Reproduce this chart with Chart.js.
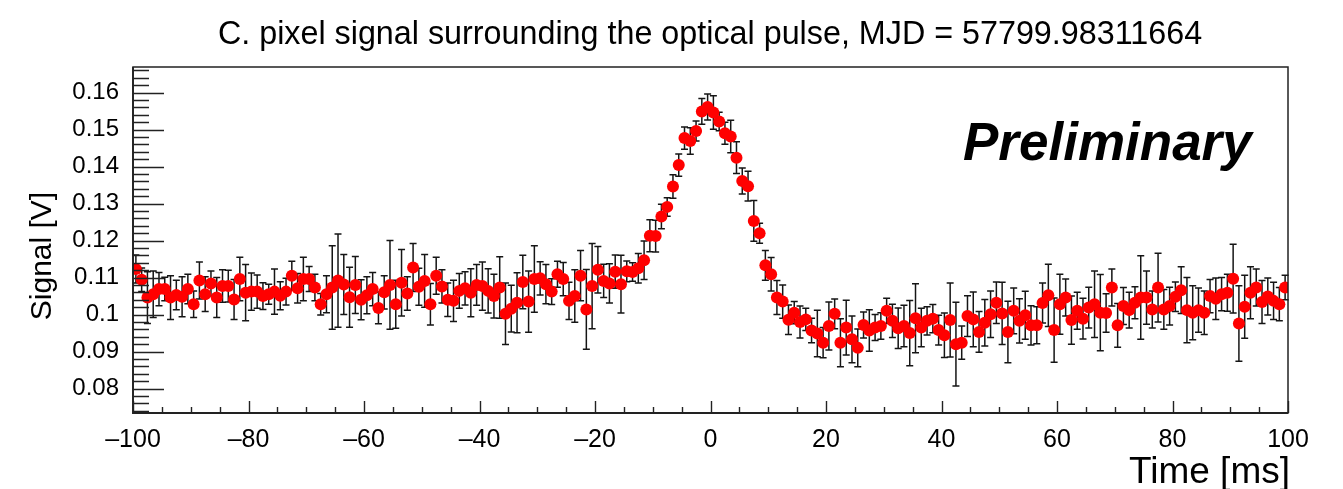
<!DOCTYPE html>
<html>
<head>
<meta charset="utf-8">
<script src="https://cdn.jsdelivr.net/npm/chart.js@4/dist/chart.umd.min.js"></script>
<style>
html,body{margin:0;padding:0;background:#fff;}
#wrap{width:1343px;height:489px;position:relative;}
</style>
</head>
<body>
<div id="wrap"><canvas id="c" width="1343" height="489"></canvas></div>
<script>
// ---- data ----
const titleText = "C. pixel signal surrounding the optical pulse, MJD = 57799.98311664";
const xTitle = "Time [ms]";
const yTitle = "Signal [V]";
const watermark = "Preliminary";

const xTickValues = [-100, -80, -60, -40, -20, 0, 20, 40, 60, 80, 100];
const yTickValues = [0.08, 0.09, 0.10, 0.11, 0.12, 0.13, 0.14, 0.15, 0.16];

const times = [
-99.5,-98.5,-97.5,-96.5,-95.5,-94.5,-93.5,-92.5,-91.5,-90.5,
-89.5,-88.5,-87.5,-86.5,-85.5,-84.5,-83.5,-82.5,-81.5,-80.5,
-79.5,-78.5,-77.5,-76.5,-75.5,-74.5,-73.5,-72.5,-71.5,-70.5,
-69.5,-68.5,-67.5,-66.5,-65.5,-64.5,-63.5,-62.5,-61.5,-60.5,
-59.5,-58.5,-57.5,-56.5,-55.5,-54.5,-53.5,-52.5,-51.5,-50.5,
-49.5,-48.5,-47.5,-46.5,-45.5,-44.5,-43.5,-42.5,-41.5,-40.5,
-39.5,-38.5,-37.5,-36.5,-35.5,-34.5,-33.5,-32.5,-31.5,-30.5,
-29.5,-28.5,-27.5,-26.5,-25.5,-24.5,-23.5,-22.5,-21.5,-20.5,
-19.5,-18.5,-17.5,-16.5,-15.5,-14.5,-13.5,-12.5,-11.5,-10.5,
-9.5,-8.5,-7.5,-6.5,-5.5,-4.5,-3.5,-2.5,-1.5,-0.5,
0.5,1.5,2.5,3.5,4.5,5.5,6.5,7.5,8.5,9.5,
10.5,11.5,12.5,13.5,14.5,15.5,16.5,17.5,18.5,19.5,
20.5,21.5,22.5,23.5,24.5,25.5,26.5,27.5,28.5,29.5,
30.5,31.5,32.5,33.5,34.5,35.5,36.5,37.5,38.5,39.5,
40.5,41.5,42.5,43.5,44.5,45.5,46.5,47.5,48.5,49.5,
50.5,51.5,52.5,53.5,54.5,55.5,56.5,57.5,58.5,59.5,
60.5,61.5,62.5,63.5,64.5,65.5,66.5,67.5,68.5,69.5,
70.5,71.5,72.5,73.5,74.5,75.5,76.5,77.5,78.5,79.5,
80.5,81.5,82.5,83.5,84.5,85.5,86.5,87.5,88.5,89.5,
90.5,91.5,92.5,93.5,94.5,95.5,96.5,97.5,98.5,99.5
];

const signal = [
0.1123,0.1094,0.1046,0.1055,0.1069,0.1069,0.1046,0.1053,0.1048,0.1069,
0.1028,0.1092,0.1055,0.1084,0.1046,0.1077,0.1077,0.1041,0.1096,0.1059,
0.1062,0.1062,0.1050,0.1055,0.1062,0.1051,0.1062,0.1105,0.1071,0.1096,
0.1096,0.1073,0.1028,0.1055,0.1073,0.1092,0.1081,0.1047,0.1080,0.1040,
0.1052,0.1069,0.1018,0.1060,0.1080,0.1028,0.1086,0.1057,0.1127,0.1075,
0.1091,0.1028,0.1105,0.1076,0.1040,0.1037,0.1064,0.1071,0.1059,0.1080,
0.1077,0.1064,0.1050,0.1073,0.1002,0.1016,0.1032,0.1088,0.1035,0.1096,
0.1098,0.1082,0.1062,0.1109,0.1096,0.1037,0.1050,0.1105,0.1014,0.1077,
0.1121,0.1091,0.1084,0.1116,0.1082,0.1117,0.1115,0.1125,0.1147,0.1213,
0.1212,0.1265,0.1291,0.1346,0.1404,0.1477,0.1469,0.1496,0.1549,0.1561,
0.1546,0.1522,0.1490,0.1481,0.1424,0.1361,0.1347,0.1253,0.1220,0.1133,
0.1109,0.1046,0.1035,0.0986,0.1005,0.0980,0.0987,0.0957,0.0949,0.0924,
0.0969,0.1002,0.0924,0.0965,0.0933,0.0910,0.0972,0.0957,0.0965,0.0969,
0.1010,0.0983,0.0963,0.0969,0.0950,0.0990,0.0965,0.0983,0.0989,0.0958,
0.0944,0.0985,0.0920,0.0924,0.0996,0.0987,0.0953,0.0978,0.1001,0.1032,
0.1003,0.0953,0.1010,0.0983,0.0998,0.0971,0.0971,0.1031,0.1052,0.0958,
0.1028,0.1046,0.0985,0.1010,0.0989,0.1019,0.1028,0.1005,0.1004,0.1073,
0.0971,0.1023,0.1012,0.1032,0.1046,0.1046,0.1014,0.1073,0.1014,0.1023,
0.1048,0.1066,0.1012,0.1005,0.1012,0.1005,0.1050,0.1043,0.1055,0.1059,
0.1097,0.0976,0.1021,0.1059,0.1073,0.1034,0.1049,0.1037,0.1028,0.1073
];

const errors = [
0.0038,0.0032,0.0070,0.0063,0.0045,0.0032,0.0059,0.0040,0.0054,0.0040,
0.0036,0.0050,0.0047,0.0034,0.0054,0.0044,0.0043,0.0054,0.0059,0.0076,
0.0050,0.0045,0.0036,0.0027,0.0061,0.0038,0.0036,0.0039,0.0040,0.0059,
0.0034,0.0036,0.0029,0.0050,0.0113,0.0126,0.0081,0.0081,0.0077,0.0054,
0.0050,0.0045,0.0043,0.0045,0.0120,0.0065,0.0090,0.0045,0.0065,0.0050,
0.0071,0.0056,0.0050,0.0045,0.0045,0.0056,0.0047,0.0045,0.0065,0.0055,
0.0065,0.0060,0.0059,0.0083,0.0083,0.0063,0.0081,0.0072,0.0083,0.0090,
0.0045,0.0053,0.0035,0.0035,0.0045,0.0050,0.0071,0.0068,0.0108,0.0115,
0.0063,0.0045,0.0053,0.0045,0.0078,0.0028,0.0025,0.0040,0.0052,0.0043,
0.0043,0.0033,0.0025,0.0032,0.0030,0.0030,0.0036,0.0027,0.0035,0.0035,
0.0045,0.0025,0.0030,0.0044,0.0043,0.0035,0.0040,0.0055,0.0027,0.0040,
0.0045,0.0046,0.0045,0.0040,0.0030,0.0043,0.0030,0.0033,0.0063,0.0041,
0.0065,0.0040,0.0065,0.0074,0.0063,0.0051,0.0035,0.0056,0.0035,0.0036,
0.0034,0.0045,0.0055,0.0056,0.0088,0.0093,0.0052,0.0038,0.0038,0.0040,
0.0060,0.0100,0.0113,0.0045,0.0055,0.0074,0.0055,0.0063,0.0063,0.0056,
0.0084,0.0083,0.0062,0.0060,0.0065,0.0053,0.0050,0.0054,0.0084,0.0087,
0.0081,0.0050,0.0065,0.0050,0.0055,0.0055,0.0090,0.0103,0.0052,0.0050,
0.0059,0.0050,0.0048,0.0043,0.0113,0.0072,0.0050,0.0093,0.0054,0.0051,
0.0040,0.0063,0.0088,0.0073,0.0060,0.0059,0.0045,0.0056,0.0045,0.0050,
0.0093,0.0102,0.0085,0.0070,0.0050,0.0058,0.0050,0.0050,0.0045,0.0033
];

// ---- axis ranges ----
const X_MIN = -100, X_MAX = 100;
const Y_MIN = 0.0734, Y_MAX = 0.1669;

const FONT = "'Liberation Sans', Arial, Helvetica, sans-serif";
Chart.defaults.font.family = FONT;

const errorBars = {
  id: 'errorBars',
  beforeDatasetsDraw(chart) {
    const ctx = chart.ctx, xs = chart.scales.x, ys = chart.scales.y;
    ctx.save();
    ctx.strokeStyle = '#151515';
    ctx.lineWidth = 1.5;
    ctx.beginPath();
    for (let i = 0; i < times.length; i++) {
      const x = xs.getPixelForValue(times[i]);
      const y1 = ys.getPixelForValue(signal[i] + errors[i]);
      const y2 = ys.getPixelForValue(signal[i] - errors[i]);
      ctx.moveTo(x, y1); ctx.lineTo(x, y2);
      ctx.moveTo(x - 3.5, y1); ctx.lineTo(x + 3.5, y1);
      ctx.moveTo(x - 3.5, y2); ctx.lineTo(x + 3.5, y2);
    }
    ctx.stroke();
    ctx.restore();
  }
};

const rootFrame = {
  id: 'rootFrame',
  afterDraw(chart) {
    const ctx = chart.ctx, a = chart.chartArea, xs = chart.scales.x, ys = chart.scales.y;
    ctx.save();
    // frame
    ctx.strokeStyle = '#222';
    ctx.lineWidth = 1.5;
    ctx.strokeRect(a.left, a.top, a.right - a.left, a.bottom - a.top);
    ctx.lineWidth = 1.8;
    ctx.beginPath();
    ctx.moveTo(a.left, a.top); ctx.lineTo(a.left, a.bottom); ctx.lineTo(a.right, a.bottom);
    ctx.stroke();
    // y ticks (major + minor every 0.002)
    ctx.lineWidth = 1.4;
    ctx.beginPath();
    for (let k = 37; k <= 83; k++) {
      const v = k * 0.002;
      if (v < Y_MIN || v > Y_MAX) continue;
      const y = Math.round(ys.getPixelForValue(v)) + 0.5;
      const len = (k % 5 === 0) ? 31 : 16;
      ctx.moveTo(a.left, y); ctx.lineTo(a.left + len, y);
    }
    // x ticks (major every 20, minor every 5)
    for (let t = X_MIN; t <= X_MAX; t += 5) {
      const x = Math.round(xs.getPixelForValue(t)) + 0.5;
      const len = (t % 20 === 0) ? 12 : 6;
      ctx.moveTo(x, a.bottom); ctx.lineTo(x, a.bottom - len);
    }
    ctx.stroke();

    // texts
    ctx.fillStyle = '#000';
    ctx.textAlign = 'center';
    ctx.textBaseline = 'alphabetic';
    ctx.font = "32.3px " + FONT;
    ctx.fillText(titleText, 710, 44);

    ctx.textAlign = 'left';
    ctx.font = "italic bold 53px " + FONT;
    ctx.fillText(watermark, 963, 160);

    ctx.textAlign = 'right';
    ctx.font = "37px " + FONT;
    ctx.fillText(xTitle, 1290, 483);

    ctx.save();
    ctx.translate(51, 256);
    ctx.rotate(-Math.PI / 2);
    ctx.textAlign = 'center';
    ctx.font = "30px " + FONT;
    ctx.fillText(yTitle, 0, 0);
    ctx.restore();
    ctx.restore();
  }
};

const fmtY = v => String(+Number(v).toFixed(3));
const fmtX = v => (v < 0 ? '\u2013' + Math.abs(v) : String(v));

new Chart(document.getElementById('c'), {
  type: 'scatter',
  data: {
    datasets: [{
      data: times.map((t, i) => ({ x: t, y: signal[i] })),
      pointRadius: 6,
      pointHoverRadius: 6,
      pointBackgroundColor: '#ff0000',
      pointBorderWidth: 0,
      showLine: false
    }]
  },
  options: {
    responsive: false,
    animation: false,
    events: [],
    layout: { padding: { top: 67, right: 55, left: 0, bottom: 0 } },
    plugins: { legend: { display: false }, tooltip: { enabled: false }, title: { display: false } },
    scales: {
      x: {
        type: 'linear', min: X_MIN, max: X_MAX,
        grid: { display: false, drawTicks: false },
        border: { display: false },
        afterBuildTicks: s => { s.ticks = xTickValues.map(v => ({ value: v })); },
        ticks: { color: '#000', font: { size: 25 }, padding: 12, maxRotation: 0, autoSkip: false, callback: fmtX },
        afterFit: s => { s.height = 76; }
      },
      y: {
        type: 'linear', min: Y_MIN, max: Y_MAX,
        grid: { display: false, drawTicks: false },
        border: { display: false },
        afterBuildTicks: s => { s.ticks = yTickValues.map(v => ({ value: v })); },
        ticks: { color: '#000', font: { size: 24 }, padding: 14, autoSkip: false, callback: fmtY },
        afterFit: s => { s.width = 133; }
      }
    }
  },
  plugins: [errorBars, rootFrame]
});
</script>
</body>
</html>
